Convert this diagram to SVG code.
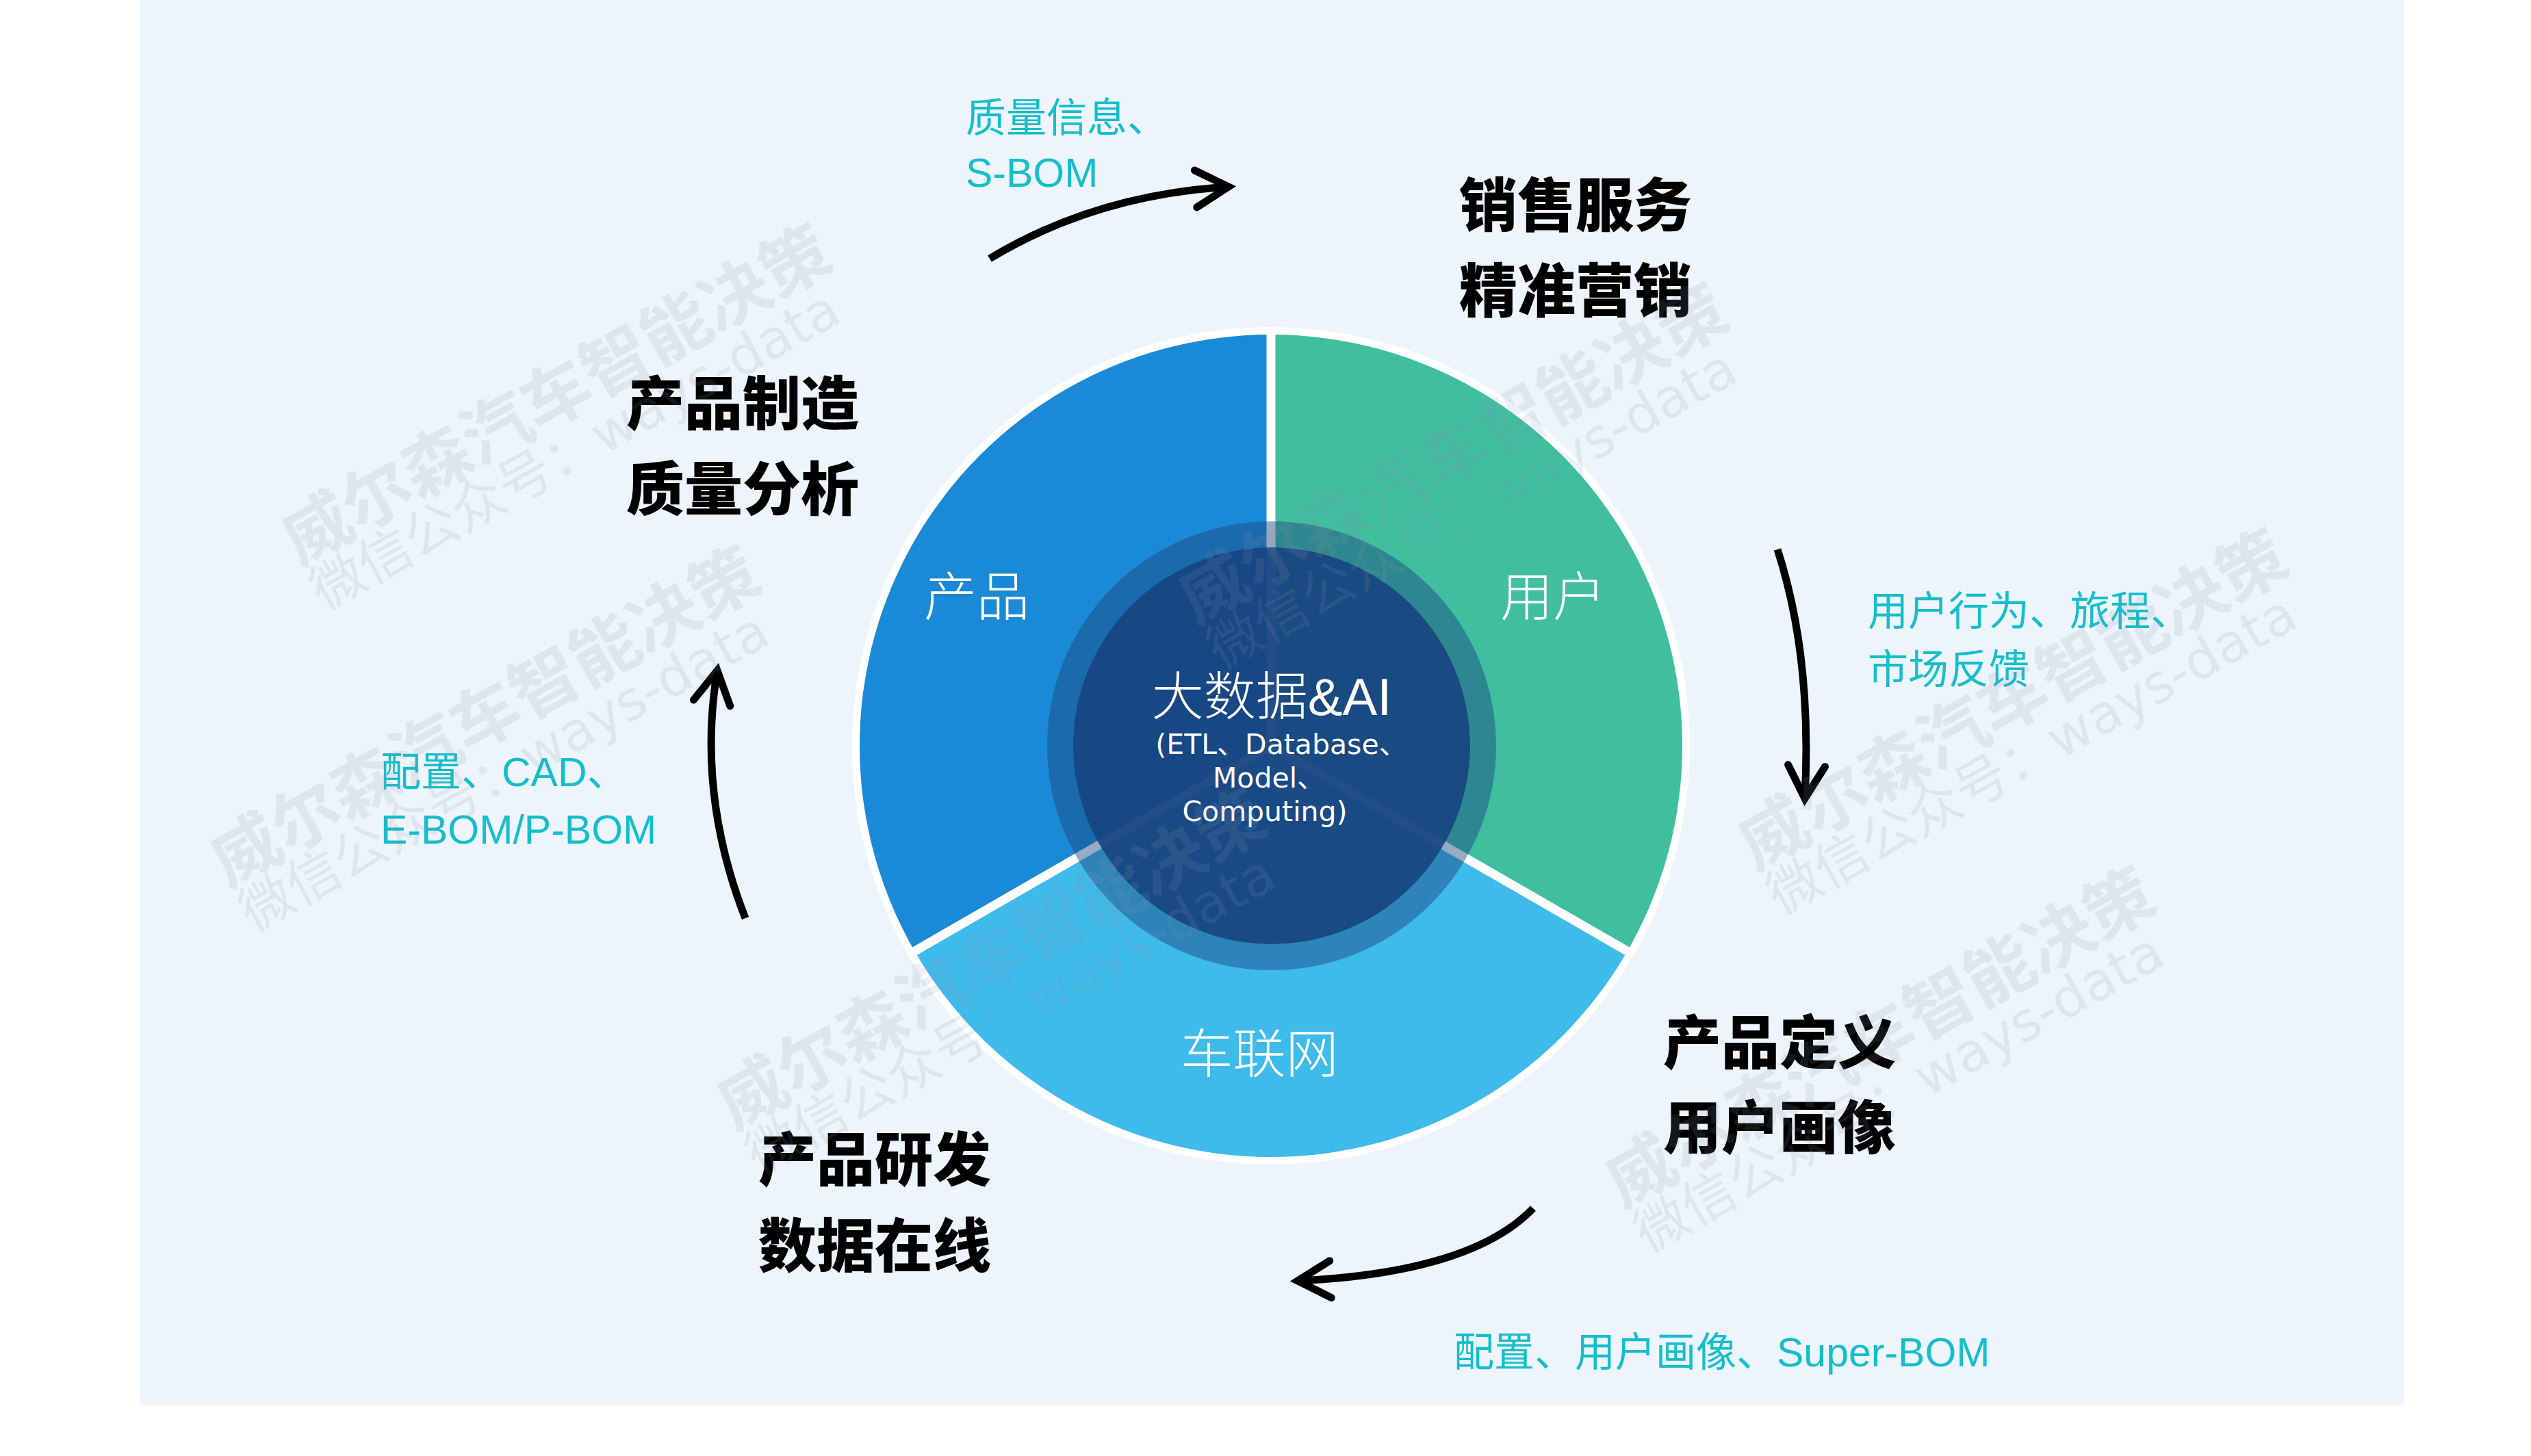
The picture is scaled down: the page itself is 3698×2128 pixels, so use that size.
<svg xmlns="http://www.w3.org/2000/svg" width="3698" height="2128" viewBox="0 0 3698 2128">
<defs>
<style>
.title{font-family:"Noto Sans CJK SC","Noto Sans CJK JP",sans-serif;font-weight:900;font-size:85px;fill:#000}
.cyan{font-family:"Liberation Sans","Noto Sans CJK SC",sans-serif;font-size:59px;fill:#14BECB}
.seg{font-family:"Noto Sans CJK SC",sans-serif;font-weight:300;font-size:77px;fill:#fff}
.ctr{font-family:"Liberation Sans","Noto Sans CJK SC",sans-serif;font-weight:300;font-size:76px;fill:#fff}
.sub{font-family:"DejaVu Sans","Noto Sans CJK SC",sans-serif;font-size:41px;fill:#fff}
.arrow{fill:none;stroke:#000;stroke-width:11;stroke-linecap:butt}
.wm1{font-family:"Noto Sans CJK SC",sans-serif;font-weight:700;font-size:100px}
.wm2{font-family:"DejaVu Sans","Noto Sans CJK SC",sans-serif;font-size:78px}
.sep{stroke:#fff;stroke-width:13}
</style>
<marker id="head" markerUnits="userSpaceOnUse" orient="auto" overflow="visible" markerWidth="1" markerHeight="1">
<path d="M-48,-27 L0,0 L-48,27" fill="none" stroke="#000" stroke-width="11" stroke-linecap="round" stroke-linejoin="miter"/>
</marker>
<g id="wm">
<text class="wm1" x="0" y="0">威尔森汽车智能决策</text>
<text class="wm2" x="0" y="75">微信公众号：ways-data</text>
</g>
</defs>
<rect x="0" y="0" width="3698" height="2128" fill="#ffffff"/>
<rect x="204" y="0" width="3309" height="2054" fill="#EEF4FC"/>

<g id="pie">
<circle cx="1857" cy="1090" r="612" fill="#ffffff"/>
<g id="node-product">
<path d="M1857,1090 L1857,489 A601,601 0 0 0 1336.5,1390.5 Z" fill="#1B8AD6"/>
<text class="seg" x="1350" y="900">产品</text>
</g>
<g id="node-user">
<path d="M1857,1090 L1857,489 A601,601 0 0 1 2377.5,1390.5 Z" fill="#3FBFA0"/>
<text class="seg" x="2192" y="900">用户</text>
</g>
<g id="node-iov">
<path d="M1857,1090 L2377.5,1390.5 A601,601 0 0 1 1336.5,1390.5 Z" fill="#3EBAEB"/>
<text class="seg" x="1840" y="1568" text-anchor="middle">车联网</text>
</g>
<line class="sep" x1="1857" y1="1090" x2="1857" y2="480"/>
<line class="sep" x1="1857" y1="1090" x2="1328" y2="1395"/>
<line class="sep" x1="1857" y1="1090" x2="2386" y2="1395"/>
</g>

<g id="node-center">
<circle cx="1858" cy="1090" r="309" fill="none" stroke="#1A437D" stroke-opacity="0.45" stroke-width="38"/>
<circle cx="1858" cy="1090" r="290" fill="#17437F" fill-opacity="0.95"/>
<text class="ctr" x="1858" y="1045" text-anchor="middle">大数据&amp;AI</text>
<text class="sub" x="1872" y="1102" text-anchor="middle">(ETL、Database、</text>
<text class="sub" x="1854" y="1151" text-anchor="middle">Model、</text>
<text class="sub" x="1848" y="1200" text-anchor="middle">Computing)</text>
</g>

<g id="node-sales">
<text class="title" x="2132" y="331">销售服务</text>
<text class="title" x="2132" y="456">精准营销</text>
</g>
<g id="node-manufacture">
<text class="title" x="915" y="621">产品制造</text>
<text class="title" x="915" y="746">质量分析</text>
</g>
<g id="node-definition">
<text class="title" x="2430" y="1555">产品定义</text>
<text class="title" x="2430" y="1679">用户画像</text>
</g>
<g id="node-rd">
<text class="title" x="1108" y="1726">产品研发</text>
<text class="title" x="1108" y="1852">数据在线</text>
</g>

<g id="connectors">
<path class="arrow" d="M1446,378 Q1600,285 1795,273" marker-end="url(#head)"/>
<path class="arrow" d="M2597,803 Q2648,960 2637,1167" marker-end="url(#head)"/>
<path class="arrow" d="M2240,1766 Q2150,1860 1896,1872" marker-end="url(#head)"/>
<path class="arrow" d="M1089,1342 Q1018,1160 1048,980" marker-end="url(#head)"/>
</g>

<g id="labels">
<text class="cyan" x="1411" y="193">质量信息、</text>
<text class="cyan" x="1411" y="273">S-BOM</text>
<text class="cyan" x="2729" y="914">用户行为、旅程、</text>
<text class="cyan" x="2729" y="999">市场反馈</text>
<text class="cyan" x="556" y="1149">配置、CAD、</text>
<text class="cyan" x="556" y="1233">E-BOM/P-BOM</text>
<text class="cyan" x="2124" y="1997">配置、用户画像、Super-BOM</text>
</g>

<g id="watermarks" fill="#8C96AA" fill-opacity="0.15">
<use href="#wm" transform="translate(437,828) rotate(-29.2)"/>
<use href="#wm" transform="translate(333,1298) rotate(-29.2)"/>
<use href="#wm" transform="translate(1747,914) rotate(-29.2)"/>
<use href="#wm" transform="translate(1073,1653) rotate(-29.2)"/>
<use href="#wm" transform="translate(2565,1273) rotate(-29.2)"/>
<use href="#wm" transform="translate(2371,1767) rotate(-29.2)"/>
</g>
</svg>
